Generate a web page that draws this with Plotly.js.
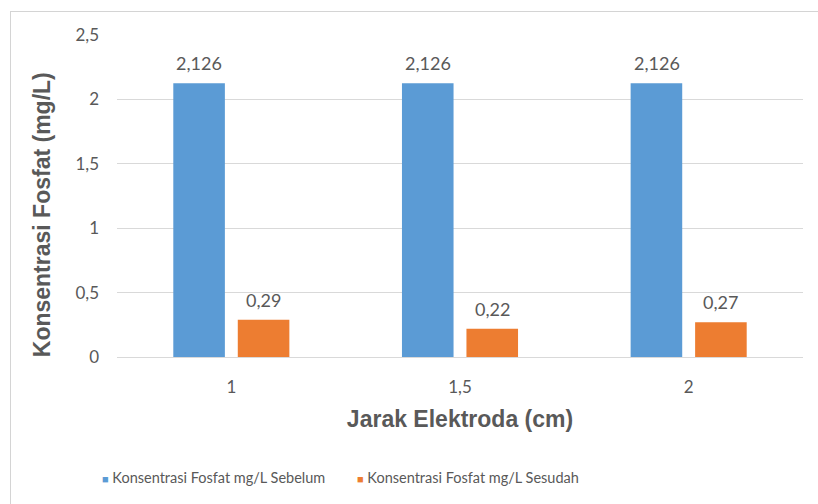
<!DOCTYPE html>
<html>
<head>
<meta charset="utf-8">
<script src="https://cdn.plot.ly/plotly-3.0.1.min.js"></script>
<style>
  html, body { margin: 0; padding: 0; background: #ffffff; }
  #wrap { position: relative; width: 818px; height: 504px; overflow: hidden; }
  #chart { width: 818px; height: 504px; }
  /* light chart-area frame running off the right and bottom edges */
  #frame {
    position: absolute; left: 10px; top: 11px; width: 830px; height: 520px;
    border: 1.5px solid #D4D4D4; pointer-events: none; box-sizing: border-box;
  }
</style>
</head>
<body>
<div id="wrap">
  <div id="chart"></div>
  <div id="frame"></div>
</div>
<script>
// Electrode distance (cm) on the x axis
const categories = ['1', '1,5', '2'];
// Phosphate concentration (mg/L) before and after treatment
const sebelum = [2.126, 2.126, 2.126];
const sesudah = [0.29, 0.22, 0.27];
const seriesNames = ['Konsentrasi Fosfat mg/L Sebelum', 'Konsentrasi Fosfat mg/L Sesudah'];
const seriesColors = ['#5B9BD5', '#ED7D31'];
const yTicks = [0, 0.5, 1, 1.5, 2, 2.5];

const textColor = '#595959';
const numFont = 'Lato, "Open Sans", sans-serif';
const titleFont = '"Liberation Sans", Arial, sans-serif';

const fmt = v => String(v).replace('.', ',');

const seriesValues = [sebelum, sesudah];
const traces = seriesValues.map((vals, s) => ({
  type: 'bar', name: seriesNames[s], x: categories, y: vals,
  marker: { color: seriesColors[s] }, hoverinfo: 'x+y'
}));

// value labels above each bar, offset to the bar's slot in the group
// (x given as category index so "1" and "2" are not read as positions)
const annotations = [];
seriesValues.forEach((vals, s) => {
  vals.forEach((v, i) => {
    annotations.push({
      x: i, y: v, xref: 'x', yref: 'y',
      text: fmt(v), showarrow: false,
      xshift: s === 0 ? -32 : 32, yshift: 20, yanchor: 'middle',
      font: { family: numFont, size: 18, color: textColor }
    });
  });
});

// vertical axis title
annotations.push({
  xref: 'paper', yref: 'paper', x: -0.109, y: 0.441,
  text: 'Konsentrasi Fosfat (mg/L)', textangle: -90, showarrow: false,
  xanchor: 'center', yanchor: 'middle',
  font: { family: titleFont, size: 23, color: textColor, weight: 'bold' }
});

// legend row below the axis title: small colour square + series name
const legendX = [-0.0245, 0.3475];
seriesNames.forEach((name, s) => {
  annotations.push({
    xref: 'paper', yref: 'paper', x: legendX[s], y: -0.373,
    xanchor: 'left', yanchor: 'middle', showarrow: false,
    text: '<span style="color:' + seriesColors[s] + ';font-size:11px">■</span> ' + name,
    font: { family: numFont, size: 14.5, color: textColor }
  });
});

const layout = {
  width: 818, height: 504,
  margin: { l: 117, r: 15, t: 35, b: 147 },
  paper_bgcolor: '#ffffff', plot_bgcolor: '#ffffff',
  separators: ',.',
  barmode: 'group', bargap: 0.436, bargroupgap: 0.2,
  showlegend: false,
  xaxis: {
    type: 'category', showgrid: false, zeroline: false, showline: false,
    ticks: '', ticklabelstandoff: 18,
    tickfont: { family: numFont, size: 17, color: textColor },
    title: {
      text: 'Jarak Elektroda (cm)', standoff: 14,
      font: { family: titleFont, size: 23, color: textColor, weight: 'bold' }
    }
  },
  yaxis: {
    range: [0, 2.5], tickvals: yTicks, ticktext: yTicks.map(fmt),
    showgrid: true, gridcolor: '#D9D9D9', gridwidth: 1,
    zeroline: true, zerolinecolor: '#D9D9D9', zerolinewidth: 1,
    showline: false, ticks: '', ticklabelstandoff: 17,
    tickfont: { family: numFont, size: 17, color: textColor }
  },
  annotations: annotations
};

Plotly.newPlot('chart', traces, layout, { staticPlot: true, displayModeBar: false });
</script>
</body>
</html>
